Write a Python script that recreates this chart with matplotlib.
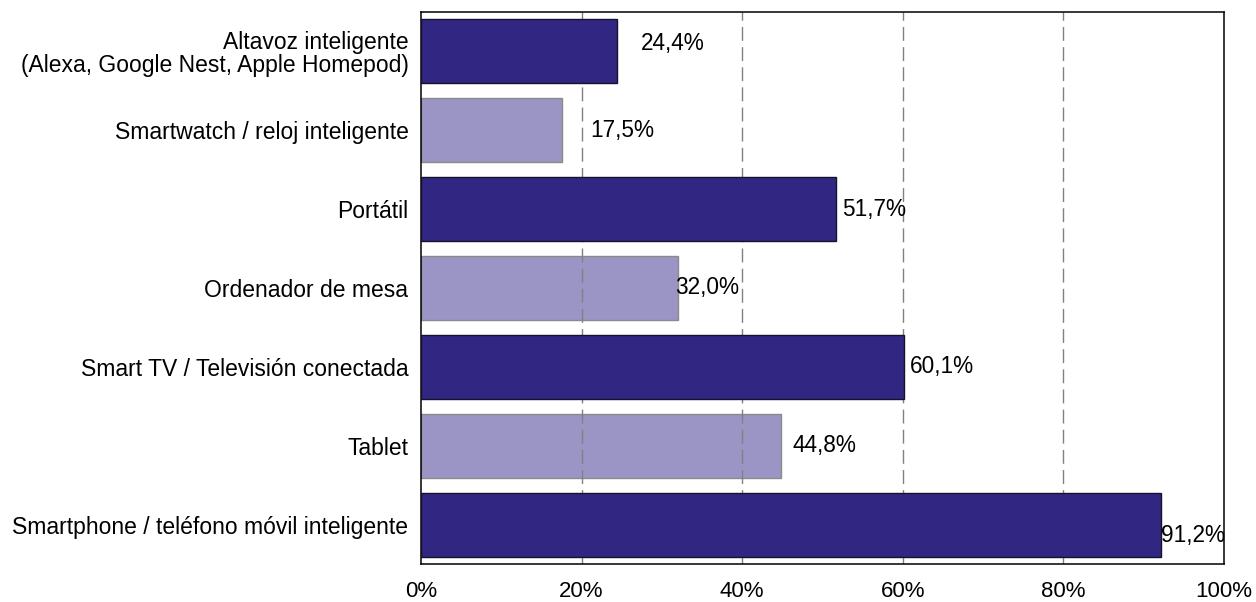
import matplotlib
matplotlib.use("Agg")
import matplotlib.pyplot as plt

categories = [
    "Smartphone / teléfono móvil inteligente",
    "Tablet",
    "Smart TV / Televisión conectada",
    "Ordenador de mesa",
    "Portátil",
    "Smartwatch / reloj inteligente",
    "Altavoz inteligente\n(Alexa, Google Nest, Apple Homepod)",
]
values = [92.2, 44.8, 60.1, 32.0, 51.7, 17.5, 24.4]
value_labels = ["91,2%", "44,8%", "60,1%", "32,0%", "51,7%", "17,5%", "24,4%"]
xticks = [0, 20, 40, 60, 80, 100]
xtick_labels = ["0%", "20%", "40%", "60%", "80%", "100%"]

# style: alternating dark / light bars, label offsets in pixels
dark = "#312783"
light = "#9a95c4"
label_dx = [0, 12, 6, -3, 6, 29, 24]
label_dy = [-11, 0, 0, 1, 0, 0, 8]

plt.rcParams["font.family"] = ["Liberation Sans", "DejaVu Sans"]

W, H = 1256, 602
fig = plt.figure(figsize=(W / 100, H / 100), dpi=100)
ax = fig.add_axes([421 / W, 1 - 564 / H, 803 / W, 552 / H])

for i, (v, lab) in enumerate(zip(values, value_labels)):
    is_dark = (i % 2 == 0)
    ax.barh(i, v, height=0.81,
            color=dark if is_dark else light,
            edgecolor="#15132b" if is_dark else "#8a8a8a",
            linewidth=1.0, zorder=3 if is_dark else 1)
    ax.annotate(lab, xy=(v, i), xytext=(label_dx[i], label_dy[i]),
                textcoords="offset pixels",
                ha="left", va="center", fontsize=16.3, color="black", zorder=5)

for x in xticks[1:-1]:
    ax.axvline(x, color="#808080", linestyle=(0, (10, 4.5)), linewidth=1.0, zorder=2)

ax.set_xlim(0, 100)
ax.set_ylim(-0.5, 6.5)
ax.set_xticks(xticks)
ax.set_xticklabels(xtick_labels, fontsize=16)
ax.set_yticks(range(len(categories)))
ax.set_yticklabels(categories, fontsize=16.5, linespacing=1.0)
ax.tick_params(axis="both", length=0)
ax.tick_params(axis="x", pad=12)
ax.tick_params(axis="y", pad=9)
for s in ax.spines.values():
    s.set_color("black")
    s.set_linewidth(1.1)

fig.savefig("out.png", dpi=100)
